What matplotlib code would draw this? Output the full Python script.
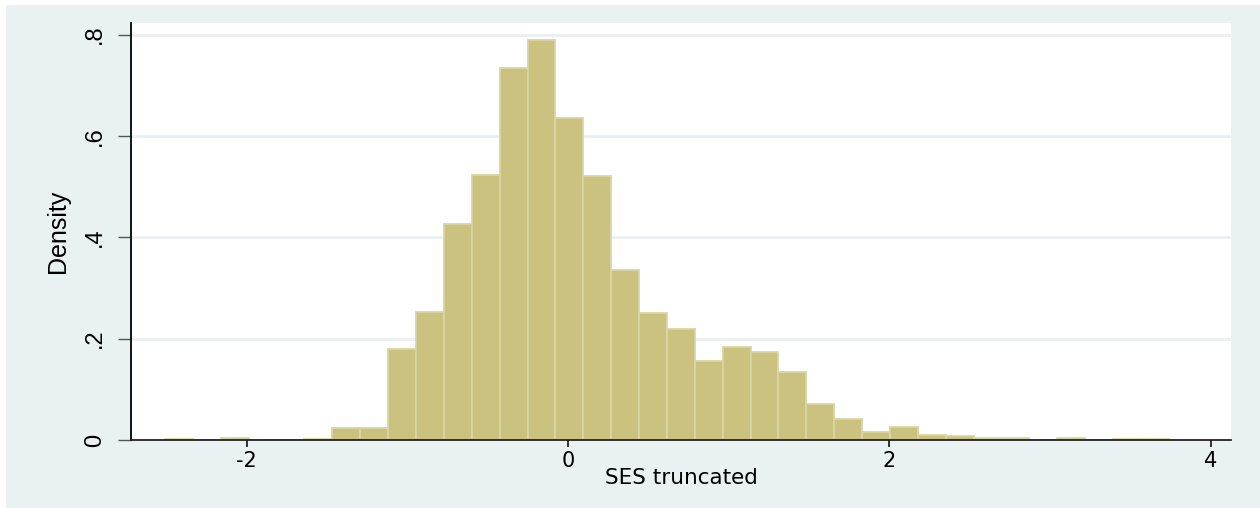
import matplotlib
matplotlib.use("Agg")
import matplotlib.pyplot as plt
from matplotlib import font_manager
from matplotlib.patches import Rectangle
import numpy as np

# ---- data ----
bin_start = -2.508
bin_width = 0.17353
densities = [0.002, 0.0, 0.003, 0.0, 0.0, 0.002, 0.023, 0.024, 0.179, 0.253,
             0.427, 0.524, 0.734, 0.790, 0.636, 0.522, 0.335, 0.250, 0.220, 0.155,
             0.184, 0.173, 0.135, 0.072, 0.041, 0.015, 0.026, 0.010, 0.008, 0.003,
             0.003, 0.0, 0.003, 0.0, 0.002, 0.002]
x_ticks = [-2, 0, 2, 4]
x_tick_labels = ["-2", "0", "2", "4"]
y_ticks = [0, 0.2, 0.4, 0.6, 0.8]
y_tick_labels = ["0", ".2", ".4", ".6", ".8"]
x_title = "SES truncated"
y_title = "Density"

names = {f.name for f in font_manager.fontManager.ttflist}
narrow = "Liberation Sans Narrow" if "Liberation Sans Narrow" in names else "Liberation Sans"

BG = "#E9F1F3"
BAR = "#CAC27E"
EDGE = "#DAD5A2"
GRID = "#E6EFF1"

fig = plt.figure(figsize=(12.6, 5.08), dpi=100, facecolor="white")
# light graph region
fig.patches.append(Rectangle((6 / 1260, 0), 1 - 6 / 1260, 1 - 5 / 508,
                             transform=fig.transFigure, facecolor=BG,
                             edgecolor="none", zorder=-10))

ax = fig.add_axes([131 / 1260, 68 / 508, 1100.3 / 1260, 417.3 / 508])
ax.set_facecolor("white")

edges = bin_start + bin_width * np.arange(len(densities))
ax.bar(edges, densities, width=bin_width, align="edge", color=BAR,
       edgecolor=EDGE, linewidth=1.3, zorder=3)

ax.set_xlim(-2.7198, 4.128)
ax.set_ylim(0, 0.8236)

ax.set_yticks(y_ticks)
ax.set_yticklabels(y_tick_labels, rotation=90, va="center",
                   fontfamily=narrow, fontsize=17)
ax.set_xticks(x_ticks)
ax.set_xticklabels(x_tick_labels, fontfamily="DejaVu Sans", fontsize=15)

for y in y_ticks[1:]:
    ax.axhline(y, color=GRID, linewidth=1.8, zorder=1)

for s in ["top", "right"]:
    ax.spines[s].set_visible(False)
ax.spines["left"].set_color("black")
ax.spines["bottom"].set_color("#222222")
ax.spines["left"].set_linewidth(1.3)
ax.spines["bottom"].set_linewidth(1.3)
ax.spines["left"].set_zorder(5)
ax.spines["bottom"].set_zorder(5)

ax.tick_params(axis="y", length=9.2, width=1.0, color="#555555", pad=9)
ax.tick_params(axis="x", length=5, width=1.3, color="#222222", pad=3)

ax.set_xlabel(x_title, fontfamily="DejaVu Sans", fontsize=15.5)
ax.xaxis.set_label_coords(0.5, -(478 - 440) / 417.3)
ax.xaxis.label.set_va("center")
ax.set_ylabel(y_title, fontfamily=narrow, fontsize=18)
ax.yaxis.set_label_coords((58 - 131) / 1100.3, 0.5)
ax.yaxis.label.set_va("center")

fig.savefig("out.png", dpi=100, facecolor=fig.get_facecolor())
